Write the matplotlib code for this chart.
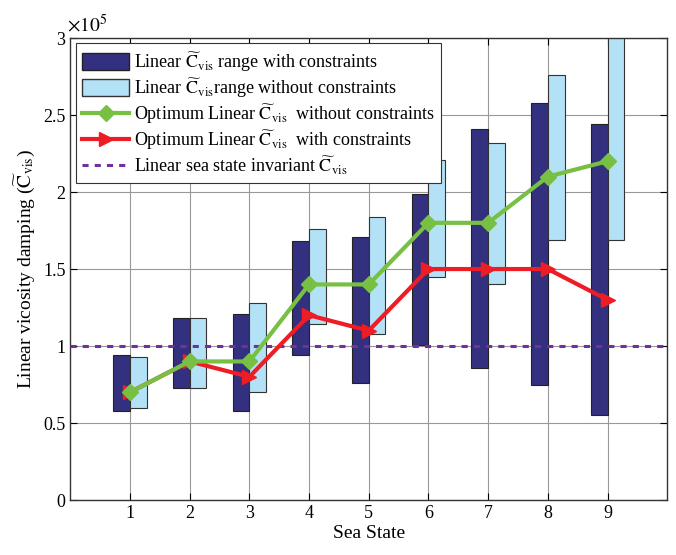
import matplotlib
matplotlib.use("Agg")
import matplotlib.pyplot as plt
from matplotlib.patches import Patch
from matplotlib.lines import Line2D
import numpy as np

plt.rcParams['font.family'] = ['Liberation Serif', 'DejaVu Serif']
plt.rcParams['mathtext.fontset'] = 'stix'

# data (x 1e5)
sea_states = [1, 2, 3, 4, 5, 6, 7, 8, 9]
con_low = [0.58, 0.73, 0.58, 0.94, 0.76, 1.01, 0.86, 0.75, 0.55]
con_high = [0.94, 1.18, 1.21, 1.68, 1.71, 1.99, 2.41, 2.58, 2.44]
free_low = [0.60, 0.73, 0.70, 1.14, 1.08, 1.45, 1.40, 1.69, 1.69]
free_high = [0.93, 1.18, 1.28, 1.76, 1.84, 2.21, 2.32, 2.76, 3.10]
opt_free = [0.7, 0.9, 0.9, 1.4, 1.4, 1.8, 1.8, 2.1, 2.2]
opt_con = [0.7, 0.9, 0.8, 1.2, 1.1, 1.5, 1.5, 1.5, 1.3]
invariant = 1.0

dark = '#33307f'
light = '#b3e1f5'
green = '#77c043'
red = '#ee1c25'
purple = '#7030a0'

fig = plt.figure(figsize=(6.76, 5.55), dpi=100)
ax = fig.add_axes([0.104, 0.099, 0.883, 0.8325])

x = np.array(sea_states)
w = 0.28
ax.bar(x - w / 2, np.array(con_high) - np.array(con_low), bottom=con_low, width=w,
       color=dark, edgecolor='#222222', linewidth=0.8, zorder=2)
ax.bar(x + w / 2, np.array(free_high) - np.array(free_low), bottom=free_low, width=w,
       color=light, edgecolor='#333333', linewidth=0.8, zorder=2)

ax.axhline(invariant, color=purple, linestyle=(0, (2, 2)), linewidth=2.2, zorder=3)
ax.plot(x, opt_con, color=red, linewidth=3, marker='>', markersize=10, zorder=4)
ax.plot(x, opt_free, color=green, linewidth=3, marker='D', markersize=8, zorder=5)

ax.set_xlim(0, 10)
ax.set_ylim(0, 3)
ax.set_xticks(sea_states)
ax.set_yticks([0, 0.5, 1, 1.5, 2, 2.5, 3])
ax.set_yticklabels(['0', '0.5', '1', '1.5', '2', '2.5', '3'])
ax.tick_params(direction='in', top=True, right=True, labelsize=13, length=5)
ax.grid(True, color='#999999', linewidth=0.8, zorder=0)
ax.set_axisbelow(True)
for s in ax.spines.values():
    s.set_linewidth(1.0)
    s.set_color('#333333')

ax.set_xlabel('Sea State', fontsize=14, labelpad=2)
ax.set_ylabel(r'Linear vicosity damping ($\widetilde{\mathrm{C}}_{\mathrm{vis}}$)', fontsize=14, labelpad=4)
ax.text(-0.005, 1.005, r'$\times10^5$', transform=ax.transAxes, fontsize=14, va='bottom', ha='left')

cv = r'$\widetilde{\mathrm{C}}_{\mathrm{vis}}$'
handles = [
    Patch(facecolor=dark, edgecolor='#222222', label='Linear ' + cv + ' range with constraints'),
    Patch(facecolor=light, edgecolor='#333333', label='Linear ' + cv + 'range without constraints'),
    Line2D([], [], color=green, linewidth=3, marker='D', markersize=8,
           label='Optimum Linear ' + cv + '  without constraints'),
    Line2D([], [], color=red, linewidth=3, marker='>', markersize=10,
           label='Optimum Linear ' + cv + '  with constraints'),
    Line2D([], [], color=purple, linewidth=2.2, linestyle=(0, (2, 2)),
           label='Linear sea state invariant ' + cv),
]
leg = ax.legend(handles=handles, loc='upper left', fontsize=13, fancybox=False,
                framealpha=1, edgecolor='#333333', handlelength=2.6, handleheight=1.1,
                handletextpad=0.3, labelspacing=0.12, borderaxespad=0.3,
                borderpad=0.35)
leg.get_frame().set_linewidth(0.8)
leg.set_zorder(10)

fig.savefig('out.png', dpi=100)
